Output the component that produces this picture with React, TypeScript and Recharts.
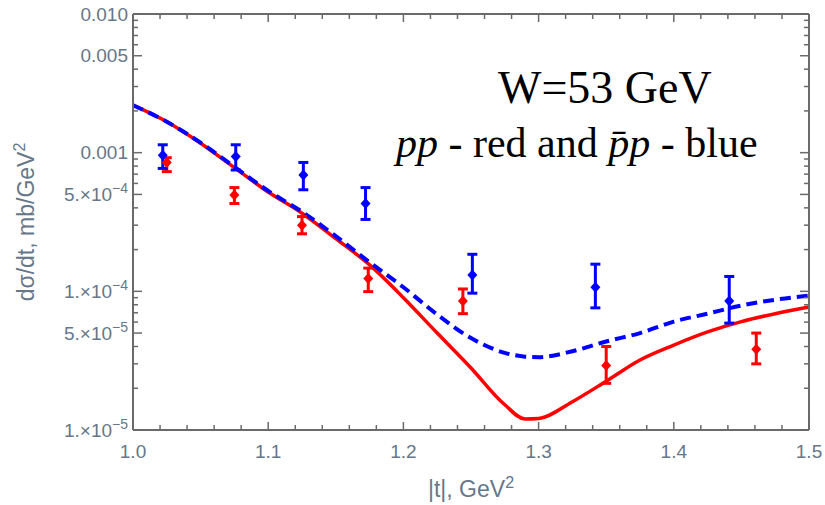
import React from 'react';
import { ComposedChart, Line, Scatter, ErrorBar, XAxis, YAxis } from 'recharts';

// theory curves, sampled along |t|
const curveT = [1.0, 1.025, 1.05, 1.075, 1.1, 1.125, 1.15, 1.175, 1.2, 1.225, 1.25, 1.275, 1.29, 1.3, 1.325, 1.35, 1.375, 1.4, 1.425, 1.45, 1.475, 1.5];
const ppCurve = [2.2e-3, 1.67e-3, 1.17e-3, 7.8e-4, 5.2e-4, 3.66e-4, 2.4e-4, 1.55e-4, 9.0e-5, 5.0e-5, 2.8e-5, 1.52e-5, 1.2e-5, 1.21e-5, 1.6e-5, 2.25e-5, 3.2e-5, 4.1e-5, 5.1e-5, 6.05e-5, 6.9e-5, 7.7e-5];
const pbarpCurve = [2.2e-3, 1.67e-3, 1.18e-3, 7.9e-4, 5.3e-4, 3.75e-4, 2.5e-4, 1.62e-4, 1.07e-4, 6.8e-5, 4.6e-5, 3.6e-5, 3.38e-5, 3.35e-5, 3.7e-5, 4.35e-5, 5.0e-5, 6.05e-5, 6.9e-5, 7.9e-5, 8.7e-5, 9.3e-5];

// measured points: value with upper and lower ends of the error bar
const ppT = [1.025, 1.075, 1.125, 1.174, 1.244, 1.35, 1.461];
const ppVal = [8.5e-4, 4.95e-4, 3.0e-4, 1.24e-4, 8.5e-5, 2.92e-5, 3.82e-5];
const ppHigh = [9.2e-4, 5.6e-4, 3.46e-4, 1.47e-4, 1.04e-4, 4.0e-5, 5.0e-5];
const ppLow = [7.3e-4, 4.3e-4, 2.6e-4, 9.95e-5, 6.9e-5, 2.17e-5, 3.0e-5];

const pbarpT = [1.022, 1.076, 1.126, 1.172, 1.251, 1.342, 1.441];
const pbarpVal = [9.6e-4, 9.4e-4, 6.9e-4, 4.3e-4, 1.31e-4, 1.07e-4, 8.5e-5];
const pbarpHigh = [1.14e-3, 1.14e-3, 8.5e-4, 5.6e-4, 1.85e-4, 1.57e-4, 1.28e-4];
const pbarpLow = [7.7e-4, 7.5e-4, 5.4e-4, 3.3e-4, 9.7e-5, 7.6e-5, 5.9e-5];

// tick labels
const xLabelValues = [1.0, 1.1, 1.2, 1.3, 1.4, 1.5];
const xLabels = ['1.0', '1.1', '1.2', '1.3', '1.4', '1.5'];
const yLabelValues = [1e-5, 5e-5, 1e-4, 5e-4, 1e-3, 5e-3, 1e-2];
const yLabelMantissa = ['1.\u00d710', '5.\u00d710', '1.\u00d710', '5.\u00d710', '0.001', '0.005', '0.010'];
const yLabelExp = ['\u22125', '\u22125', '\u22124', '\u22124', '', '', ''];

const axisColor = '#6a6a6a';
const labelColor = '#66778a';
const sans = '"Liberation Sans", Arial, sans-serif';
const serif = '"Liberation Serif", "Times New Roman", serif';

// plot box size (chart 825x505 minus margins and axis sizes)
const plotW = 676;
const plotH = 416;

const curve = (ys: number[]) => curveT.map((t, i) => ({ x: t, y: ys[i] }));
const points = (ts: number[], v: number[], hi: number[], lo: number[]) =>
  ts.map((t, i) => ({ x: t, y: v[i], err: [v[i] - lo[i], hi[i] - v[i]] }));

const xTicks: number[] = [];
for (let i = 0; i <= 25; i++) xTicks.push(Math.round((1 + i * 0.02) * 100) / 100);
const yTicks: number[] = [];
for (let e = -5; e <= -3; e++) for (let m = 1; m <= 9; m++) yTicks.push(Number((m * Math.pow(10, e)).toPrecision(3)));
yTicks.push(0.01);

const findIdx = (arr: number[], v: number) => arr.findIndex((a) => Math.abs(v / a - 1) < 1e-6);

// bottom ticks point up; the same tick is mirrored on the top edge
const BottomTick = (p: any) => {
  const i = findIdx(xLabelValues, p.payload.value);
  const len = i >= 0 ? 8 : 5;
  return (
    <g>
      <line x1={p.x} x2={p.x} y1={p.y} y2={p.y - len} stroke={axisColor} strokeWidth={1.5} />
      <line x1={p.x} x2={p.x} y1={p.y - plotH} y2={p.y - plotH + len} stroke={axisColor} strokeWidth={1.5} />
      {i >= 0 && (
        <text x={p.x} y={p.y + 28} textAnchor="middle" fill={labelColor} fontSize={19} fontFamily={sans}>{xLabels[i]}</text>
      )}
    </g>
  );
};
// left ticks point right; mirrored on the right edge
const LeftTick = (p: any) => {
  const i = findIdx(yLabelValues, p.payload.value);
  const len = i >= 0 ? 9 : 5;
  return (
    <g>
      <line x1={p.x} x2={p.x + len} y1={p.y} y2={p.y} stroke={axisColor} strokeWidth={1.5} />
      <line x1={p.x + plotW} x2={p.x + plotW - len} y1={p.y} y2={p.y} stroke={axisColor} strokeWidth={1.5} />
      {i >= 0 && (
        <text x={p.x - 5} y={p.y} dy="0.35em" textAnchor="end" fill={labelColor} fontSize={19} fontFamily={sans}>
          {yLabelMantissa[i]}
          {yLabelExp[i] && <tspan dy={-8} fontSize={14}>{yLabelExp[i]}</tspan>}
        </text>
      )}
    </g>
  );
};

const diamond = (color: string) => (p: any) => (
  <path d={`M${p.cx},${p.cy - 5.5}L${p.cx + 5},${p.cy}L${p.cx},${p.cy + 5.5}L${p.cx - 5},${p.cy}Z`} fill={color} />
);

export default function App() {
  return (
    <div style={{ position: 'absolute', left: 0, top: 0, width: 825, height: 505, background: '#fff' }}>
      <ComposedChart width={825} height={505} margin={{ top: 10, right: 10, bottom: 15, left: 10 }}>
        <XAxis dataKey="x" type="number" domain={[1, 1.5]} ticks={xTicks} interval={0} height={60}
          tickSize={0} tickMargin={0} tickLine={false} tick={<BottomTick />} axisLine={{ stroke: axisColor, strokeWidth: 2 }} />
        <XAxis xAxisId="top" orientation="top" dataKey="x" type="number" domain={[1, 1.5]} height={4}
          tick={false} tickLine={false} axisLine={{ stroke: axisColor, strokeWidth: 2 }} />
        <YAxis type="number" scale="log" domain={[1e-5, 0.01]} allowDataOverflow ticks={yTicks} interval={0} width={123}
          tickSize={0} tickMargin={0} tickLine={false} tick={<LeftTick />} axisLine={{ stroke: axisColor, strokeWidth: 2 }} />
        <YAxis yAxisId="right" orientation="right" type="number" scale="log" domain={[1e-5, 0.01]} allowDataOverflow width={6}
          tick={false} tickLine={false} axisLine={{ stroke: axisColor, strokeWidth: 2 }} />
        <Line data={curve(ppCurve)} dataKey="y" type="monotone" stroke="#ff0000" strokeWidth={3.5} dot={false} isAnimationActive={false} />
        <Line data={curve(pbarpCurve)} dataKey="y" type="monotone" stroke="#0000ff" strokeWidth={4} strokeDasharray="11 6" dot={false} isAnimationActive={false} />
        <Scatter data={points(ppT, ppVal, ppHigh, ppLow)} dataKey="y" fill="#ff0000" shape={diamond('#ff0000')} isAnimationActive={false}>
          <ErrorBar dataKey="err" direction="y" width={5} stroke="#ff0000" strokeWidth={3} isAnimationActive={false} />
        </Scatter>
        <Scatter data={points(pbarpT, pbarpVal, pbarpHigh, pbarpLow)} dataKey="y" fill="#0000ff" shape={diamond('#0000ff')} isAnimationActive={false}>
          <ErrorBar dataKey="err" direction="y" width={5} stroke="#0000ff" strokeWidth={3} isAnimationActive={false} />
        </Scatter>
      </ComposedChart>
      <svg width={825} height={505} style={{ position: 'absolute', left: 0, top: 0, pointerEvents: 'none' }}>
        <text x={498} y={103} fontSize={46} fontFamily={serif} fill="#000">W=53 GeV</text>
        <text x={396} y={157} fontSize={42} fontFamily={serif} fill="#000">
          <tspan fontStyle="italic">pp</tspan>
          <tspan> - red and </tspan>
          <tspan fontStyle="italic">p&#x0304;p</tspan>
          <tspan> - blue</tspan>
        </text>
        <text x={34} y={222} transform="rotate(-90 34 222)" textAnchor="middle" fontSize={23} fontFamily={sans} fill={labelColor}>
          d&#x03c3;/dt, mb/GeV<tspan dy={-9} fontSize={16}>2</tspan>
        </text>
        <text x={471} y={497} textAnchor="middle" fontSize={23} fontFamily={sans} fill={labelColor}>
          |t|, GeV<tspan dy={-9} fontSize={16}>2</tspan>
        </text>
      </svg>
    </div>
  );
}
